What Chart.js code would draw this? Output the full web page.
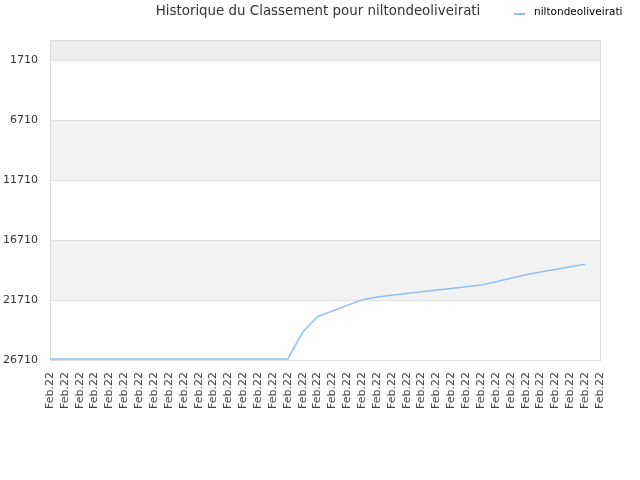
<!DOCTYPE html>
<html>
<head>
<meta charset="utf-8">
<script src="https://cdn.jsdelivr.net/npm/chart.js@4/dist/chart.umd.min.js"></script>
<style>
html,body{margin:0;padding:0;background:#fff;}
#wrap{width:640px;height:480px;position:relative;}
</style>
</head>
<body>
<div id="wrap"><canvas id="c"></canvas></div>
<script>
const titleText = "Historique du Classement pour niltondeoliveirati";
const seriesName = "niltondeoliveirati";
const categories = ["Feb.22","Feb.22","Feb.22","Feb.22","Feb.22","Feb.22","Feb.22","Feb.22","Feb.22","Feb.22",
  "Feb.22","Feb.22","Feb.22","Feb.22","Feb.22","Feb.22","Feb.22","Feb.22","Feb.22","Feb.22",
  "Feb.22","Feb.22","Feb.22","Feb.22","Feb.22","Feb.22","Feb.22","Feb.22","Feb.22","Feb.22",
  "Feb.22","Feb.22","Feb.22","Feb.22","Feb.22","Feb.22","Feb.22","Feb.22"];
const rankValues = [26620,26620,26620,26620,26620,26620,26620,26620,26620,26620,
  26620,26620,26620,26620,26620,26620,26620,24375,23084,22617,
  22150,21684,21450,21308,21166,21017,20875,20733,20592,20450,
  20183,19892,19600,19358,19150,18933,18725,null];
const yTicks = [1710,6710,11710,16710,21710,26710];
const yMin = 1, yMax = 26710;

const bandPlugin = {
  id: 'bands',
  beforeDatasetsDraw(chart) {
    const {ctx, chartArea: a, scales: {y}} = chart;
    ctx.save();
    const edges = [yMin].concat(yTicks);
    for (let i = 0; i < edges.length - 1; i++) {
      const p1 = y.getPixelForValue(edges[i]);
      const p2 = y.getPixelForValue(edges[i+1]);
      const fromBottom = edges.length - 2 - i;
      let col = null;
      if (i === 0) col = '#eeeeee';
      else if (fromBottom % 2 === 1) col = '#f2f2f2';
      if (col) { ctx.fillStyle = col; ctx.fillRect(a.left, p1, a.right - a.left, p2 - p1); }
    }
    ctx.strokeStyle = '#e0e0e0';
    ctx.lineWidth = 1;
    yTicks.forEach(t => {
      const p = Math.round(y.getPixelForValue(t)) + 0.5;
      ctx.beginPath(); ctx.moveTo(a.left, p); ctx.lineTo(a.right, p); ctx.stroke();
    });
    ctx.strokeStyle = '#dddddd';
    ctx.strokeRect(Math.round(a.left)+0.5, Math.round(a.top)+0.5, Math.round(a.right - a.left), Math.round(a.bottom - a.top));
    ctx.restore();
  },
  afterDraw(chart) {
    const ctx = chart.ctx;
    ctx.save();
    ctx.font = '13.4px "DejaVu Sans"';
    ctx.fillStyle = '#333333';
    ctx.textAlign = 'center';
    ctx.textBaseline = 'middle';
    ctx.fillText(titleText, 318, 12);
    ctx.strokeStyle = '#90c0f0';
    ctx.lineWidth = 2;
    ctx.beginPath(); ctx.moveTo(514, 14); ctx.lineTo(525, 14); ctx.stroke();
    ctx.font = '10.5px "DejaVu Sans"';
    ctx.fillStyle = '#000000';
    ctx.textAlign = 'left';
    ctx.fillText(seriesName, 534, 12.5);
    ctx.restore();
  }
};

new Chart(document.getElementById('c'), {
  type: 'line',
  data: {
    labels: categories,
    datasets: [{
      label: seriesName,
      data: rankValues,
      borderColor: '#90c0f0',
      borderWidth: 1.5,
      pointRadius: 0,
      tension: 0,
      fill: false,
      spanGaps: false
    }]
  },
  options: {
    responsive: true,
    maintainAspectRatio: false,
    animation: false,
    layout: { padding: { top: 40, right: 40, left: 0, bottom: 59 } },
    plugins: { legend: { display: false }, title: { display: false }, tooltip: { enabled: false } },
    scales: {
      x: {
        offset: false,
        grid: { display: false, drawTicks: false },
        border: { display: false },
        ticks: {
          autoSkip: false, maxRotation: 90, minRotation: 90,
          color: '#444444', font: { family: 'DejaVu Sans', size: 11 }, padding: 12
        }
      },
      y: {
        reverse: true,
        min: yMin, max: yMax,
        afterBuildTicks: (s) => { s.ticks = yTicks.map(v => ({value: v})); },
        afterFit: (s) => { s.width = 50; },
        grid: { display: false, drawTicks: false },
        border: { display: false },
        ticks: {
          color: '#333333', font: { family: 'DejaVu Sans', size: 11 }, padding: 12,
          callback: (v) => String(v)
        }
      }
    }
  },
  plugins: [bandPlugin]
});
</script>
</body>
</html>
